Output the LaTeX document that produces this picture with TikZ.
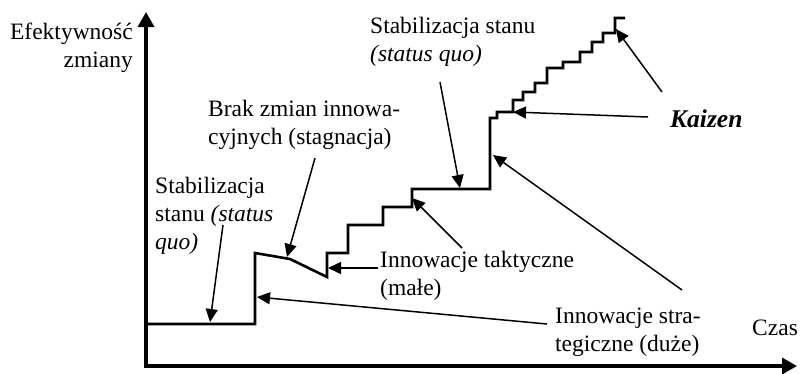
\documentclass[tikz,border=0pt]{standalone}
\usepackage{fontspec}
\setmainfont{Liberation Serif}
\usetikzlibrary{arrows.meta}
\begin{document}
\begin{tikzpicture}[x=1pt,y=-1pt,
  lbl/.style={inner sep=0pt,anchor=base west,font=\fontsize{23.5}{28}\selectfont},
  lblr/.style={lbl,anchor=base east},
  axis/.style={line width=3.4pt,-{Triangle[length=15pt,width=16pt]}},
  curve/.style={line width=2.6pt,line join=miter},
  ptr/.style={line width=1.5pt,-{Triangle[length=13pt,width=12pt]}}]
\useasboundingbox (0,0) rectangle (800,373);

% axes
\coordinate (o) at (146,366);
\coordinate (ytip) at (146,12);
\coordinate (xtip) at (797,366);
\draw[axis] ([yshift=-1.7pt]o) -- (ytip);
\draw[axis] ([xshift=-1.7pt]o) -- (xtip);

% effectiveness curve: plateau, big jump, stagnation, small steps, kaizen
\draw[curve] (146,324) -- (255,324) -- (255,253) -- (290,259) -- (327,277)
  -- (327,253) -- (348,253) -- (348,225) -- (383,225) -- (383,207)
  -- (412,207) -- (412,189) -- (490,189) -- (490,118) -- (497,118)
  -- (497,112) -- (513,112) -- (513,100) -- (523,100) -- (523,92)
  -- (535,92) -- (535,83) -- (547,83) -- (547,68) -- (563,68)
  -- (563,62) -- (580,62) -- (580,52) -- (592,52) -- (592,42)
  -- (603,42) -- (603,33) -- (615,33) -- (615,18) -- (625,18);

% labels
\node[lblr] (ef1) at (133,39) {Efektywność};
\node[lblr] (ef2) at (133,67) {zmiany};
\node[lbl] (st1) at (370,33) {Stabilizacja stanu};
\node[lbl] (st2) at (370,61) {\itshape (status quo)};
\node[lbl] (br1) at (208,116) {Brak zmian innowa-};
\node[lbl] (br2) at (208,144) {cyjnych (stagnacja)};
\node[lbl] (sl1) at (155,193) {Stabilizacja};
\node[lbl] (sl2) at (155,221) {stanu \textit{(status}};
\node[lbl] (sl3) at (155,249) {\itshape quo)};
\node[lbl] (tk1) at (380,267) {Innowacje taktyczne};
\node[lbl] (tk2) at (380,295) {(małe)};
\node[lbl] (sg1) at (555,323) {Innowacje stra-};
\node[lbl] (sg2) at (555,351) {tegiczne (duże)};
\node[lbl] (cz) at (752,335) {Czas};
\node[lbl,font=\fontsize{25.5}{30}\selectfont\bfseries\itshape] (kz) at (670,127) {Kaizen};

% pointer ends
\coordinate (a1s) at (223,225); \coordinate (a1e) at (210,322);
\coordinate (a2s) at (315,158); \coordinate (a2e) at (287,257);
\coordinate (a3s) at (378,268); \coordinate (a3e) at (328,268);
\coordinate (a4s) at (462,248); \coordinate (a4e) at (412,198);
\coordinate (a5s) at (547,324); \coordinate (a5e) at (257,297);
\coordinate (a6s) at (682,290); \coordinate (a6e) at (493,155);
\coordinate (a7s) at (440,82);  \coordinate (a7e) at (460,188);
\coordinate (a8s) at (648,117); \coordinate (a8e) at (513,112);
\coordinate (a9s) at (662,92);  \coordinate (a9e) at (616,29);

% pointers
\draw[ptr] (a1s) -- (a1e);
\draw[ptr] (a2s) -- (a2e);
\draw[ptr] (a3s) -- (a3e);
\draw[ptr] (a4s) -- (a4e);
\draw[ptr] (a5s) -- (a5e);
\draw[ptr] (a6s) -- (a6e);
\draw[ptr] (a7s) -- (a7e);
\draw[ptr] (a8s) -- (a8e);
\draw[ptr] (a9s) -- (a9e);
\end{tikzpicture}
\end{document}
